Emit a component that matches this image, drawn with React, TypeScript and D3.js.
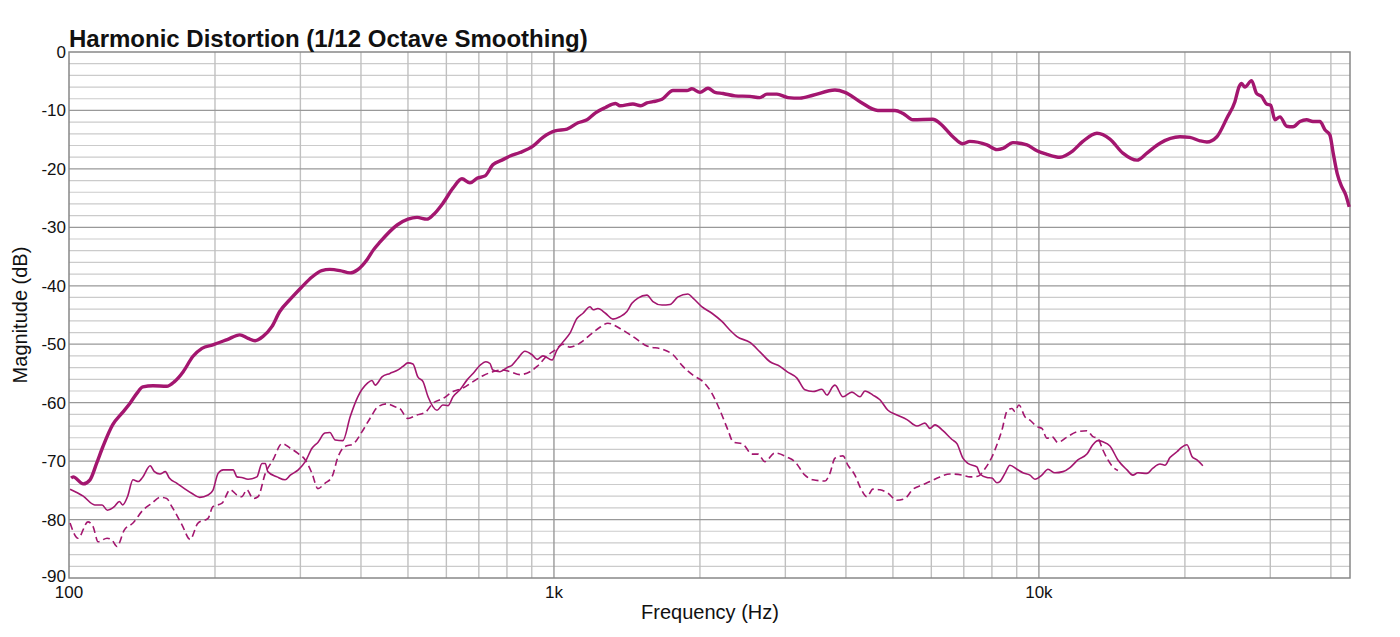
import React from "react";
import * as d3 from "d3";

// Fundamental (thick) — [Hz, dB]
const fundamental: [number, number][] = [
  [101, -72.9], [102, -72.7], [107, -73.9], [110.5, -73.2], [114, -70.4], [117.5, -67.5],
  [123, -63.8], [128.6, -61.8], [133.6, -60.1], [138, -58.4], [142, -57.3], [149, -57.1],
  [159, -57.2], [165, -56.4], [172, -54.7], [180, -52.1], [188, -50.7], [198, -50.1],
  [212, -49.2], [225, -48.4], [234, -49], [242, -49.4], [251, -48.7], [262, -47],
  [272, -44.4], [286, -42.3], [302, -40.2], [317, -38.5], [332, -37.4], [345, -37.2],
  [362, -37.4], [380, -37.8], [393, -37.3], [412, -35.5], [424, -33.9], [438, -32.5],
  [475, -29.6], [500, -28.6], [522, -28.3], [547, -28.6], [563, -27.9], [590, -25.9],
  [619, -23.3], [646, -21.7], [671, -22.4], [694, -21.6], [721, -21.2], [748, -19.3],
  [781, -18.5], [812, -17.8], [851, -17.2], [905, -16.1], [949, -14.6], [1005, -13.5],
  [1064, -13.2], [1121, -12.1], [1170, -11.6], [1218, -10.4], [1277, -9.5], [1340, -8.8],
  [1368, -9.2], [1455, -8.9], [1510, -9.2], [1555, -8.7], [1600, -8.5], [1670, -8.1],
  [1760, -6.6], [1880, -6.6], [1925, -6.3], [2000, -6.9], [2078, -6.2], [2148, -6.9],
  [2231, -7.1], [2362, -7.5], [2536, -7.6], [2659, -7.8], [2749, -7.2], [2883, -7.2],
  [3038, -7.8], [3216, -7.9], [3420, -7.4], [3797, -6.5], [3981, -6.9], [4276, -8.5],
  [4656, -10], [5048, -10], [5243, -10.5], [5500, -11.6], [6045, -11.5], [6250, -12.2],
  [6648, -14.5], [6971, -15.7], [7206, -15.3], [7813, -15.9], [8192, -16.7], [8430, -16.5],
  [8840, -15.5], [9448, -15.9], [9906, -16.9], [10390, -17.5], [11050, -18], [11750, -16.9],
  [12320, -15.3], [13170, -13.9], [14010, -14.9], [14900, -17.3], [15930, -18.5],
  [16700, -17.3], [17770, -15.6], [19530, -14.5], [20480, -14.6], [21480, -15.2],
  [22200, -15.4], [23280, -14.5], [24420, -11.3], [25360, -8.5], [25880, -5.9],
  [26180, -5.4], [26590, -6], [27450, -4.9], [28110, -7.1], [28790, -7.6], [29480, -8.9],
  [30050, -9.1], [30670, -11.6], [31410, -11.1], [32420, -12.7], [33410, -12.8],
  [34540, -11.9], [35640, -11.6], [36730, -11.9], [37970, -11.9], [38880, -13.3],
  [39810, -14.2], [40440, -17.3], [41220, -20.8], [42090, -23], [42950, -24.5], [43630, -26.5],
];

// 2nd harmonic (thin solid)
const secondHarmonic: [number, number][] = [
  [100.5, -74.8], [107, -76], [113, -77.5], [117, -77.5], [120, -78.4], [124, -77.8],
  [127, -76.9], [129, -77.5], [132, -76.1], [135.5, -73.2], [139, -73.5], [142, -72.7],
  [147, -70.8], [150, -71.8], [154, -72.2], [158, -71.8], [161, -72.9], [167, -73.8],
  [173, -74.7], [179, -75.5], [186, -76.2], [193.5, -75.8], [198, -75], [203, -72.1],
  [208, -71.5], [218, -71.5], [222, -72.7], [227, -72.8], [234, -73.1], [244, -72.7],
  [250, -70.4], [254, -70.4], [257, -71.8], [268.5, -72.7], [279, -73.2], [286, -72.4],
  [297, -71.5], [307, -70.1], [317, -67.8], [326, -66.8], [337, -65.2], [345, -65.1],
  [354, -66.4], [367, -66.5], [380, -62.4], [394, -59], [412, -56.7], [421.5, -56.2],
  [428, -57], [442, -55.6], [459, -55], [477, -54.4], [488, -53.8], [500, -53.2],
  [512, -53.4], [524, -55.6], [537, -56.4], [550, -59], [574, -61.3], [590, -60.4],
  [605, -60.5], [619, -59], [640, -57.8], [662, -56.1], [681, -55], [704, -53.6],
  [724, -53], [738, -53.3], [748, -54.4], [774, -54.7], [800, -54], [819, -53.6],
  [843, -52.4], [871, -51.2], [901, -51.8], [923, -52.6], [949, -52], [991, -52.7],
  [1014, -51], [1044, -49.6], [1079, -48.1], [1115, -45.6], [1148, -44.7], [1187, -43.6],
  [1204, -44.1], [1232, -43.9], [1277, -44.7], [1323, -45.7], [1368, -45.3], [1414, -44.4],
  [1448, -43], [1490, -42.1], [1555, -41.6], [1600, -42.7], [1670, -43.3], [1735, -43.2],
  [1802, -41.9], [1889, -41.4], [1935, -42.1], [2020, -43.6], [2117, -44.7], [2220, -46.1],
  [2307, -47.6], [2385, -48.7], [2536, -49.7], [2659, -51.3], [2789, -53], [2924, -53.8],
  [3023, -54.7], [3170, -55.8], [3292, -57.8], [3420, -58.1], [3569, -57.7], [3655, -58.7],
  [3761, -57.2], [3797, -57], [3944, -59], [4116, -58.2], [4276, -59], [4378, -58],
  [4547, -58.7], [4701, -59.5], [4883, -61.3], [5096, -62.1], [5343, -62.9], [5604, -64],
  [5821, -63.5], [5961, -64.4], [6104, -63.8], [6340, -64.8], [6617, -66.3], [6776, -67],
  [6971, -69.5], [7138, -70.4], [7450, -71], [7557, -72.2], [7813, -72.8], [8000, -72.9],
  [8192, -73.7], [8309, -73.5], [8511, -72.1], [8716, -70.7], [9010, -71.4], [9268, -72],
  [9583, -72.4], [9813, -73.1], [10140, -72.4], [10440, -71.4], [10790, -72], [11210, -71.8],
  [11590, -71.1], [12030, -69.8], [12560, -68.8], [12920, -67.2], [13230, -66.5],
  [13550, -66.7], [14010, -67.4], [14550, -69.8], [15190, -71.5], [15620, -72.4],
  [16000, -72], [16700, -72.1], [17180, -71.2], [17770, -70.5], [18190, -70.7],
  [18630, -69.4], [19260, -68.4], [19720, -67.6], [20200, -67.2], [20680, -69.2],
  [21180, -69.8], [21780, -70.8],
];

// 3rd harmonic (thin dashed)
const thirdHarmonic: [number, number][] = [
  [100.5, -80.6], [104.4, -83.2], [109.4, -80.4], [112.1, -81.2], [114.8, -83.8],
  [119.8, -83.2], [122.6, -83.5], [125.6, -84.6], [130, -81.8], [135.5, -80.6], [142, -78.4],
  [148.3, -77.2], [154, -76.2], [159, -76.4], [163, -77.8], [171, -80.9], [177.7, -83.4],
  [184.5, -80.6], [193.5, -79.8], [198, -77.8], [206.8, -77.2], [215, -74.9], [222, -75.8],
  [227, -76.1], [232.8, -74.9], [239.5, -76.4], [245.3, -76.1], [254, -72.1], [263.4, -69.8],
  [275, -67], [286, -67.8], [297, -68.7], [307, -69.8], [317, -72.1], [326, -74.7],
  [337, -73.8], [348.5, -72.7], [358.6, -69.3], [370.8, -67.5], [385, -67.1], [401.8, -65],
  [417.5, -62.7], [433.6, -60.7], [452.6, -60.2], [470, -60.7], [481, -61], [500, -62.7],
  [522, -62.1], [542, -61.7], [563, -60.1], [590, -59.3], [619, -58.1], [649.3, -57.5],
  [681, -56.4], [713.8, -55.4], [748, -54.7], [781, -54.4], [812, -54.7], [851, -55.2],
  [892.3, -54.7], [923, -53.8], [967.4, -52], [1005, -51], [1044, -50], [1079, -50.5],
  [1131.5, -49.8], [1187, -48.4], [1244, -47.1], [1292, -46.4], [1368, -47.3], [1455, -48.7],
  [1555, -50.3], [1678, -50.9], [1760, -51.8], [1845, -53.8], [1935, -55.3], [2029, -56.4],
  [2117, -58.4], [2199, -61.3], [2285, -64.7], [2340, -66.7], [2453, -67.1], [2560, -68.8],
  [2634, -68.8], [2723, -70.1], [2855, -68.6], [3023, -69.3], [3140, -70.1], [3292, -72.4],
  [3420, -73.2], [3621, -73.4], [3707, -72.1], [3797, -69.5], [3944, -69.1], [4038, -70.7],
  [4174, -72.4], [4276, -74.4], [4420, -76.1], [4547, -74.8], [4701, -74.9], [4883, -75.5],
  [5096, -76.7], [5293, -76.4], [5500, -74.8], [5740, -74.1], [5961, -73.5], [6250, -72.7],
  [6554, -72.2], [6971, -72.4], [7206, -72.7], [7486, -72.6], [7739, -71.3], [8000, -69.3],
  [8192, -67.2], [8390, -64.7], [8590, -61.5], [8799, -61], [8920, -61.5], [9095, -60.4],
  [9356, -62.4], [9583, -63], [9906, -64.1], [10140, -64.4], [10390, -66.1], [10640, -65.8],
  [10940, -66.8], [11420, -65.9], [11980, -65], [12560, -64.8], [12920, -65.8],
  [13230, -66.1], [13550, -68.1], [13880, -69.8], [14210, -71], [14550, -71.6],
];

const freqDomain: [number, number] = [100, 43800];
const dbDomain: [number, number] = [-90, 0];
const xTickValues = [100, 1000, 10000];
const xTickLabels = ["100", "1k", "10k"];
const yTickValues = [0, -10, -20, -30, -40, -50, -60, -70, -80, -90];

const title = "Harmonic Distortion (1/12 Octave Smoothing)";
const xTitle = "Frequency (Hz)";
const yTitle = "Magnitude (dB)";

const W = 1400;
const H = 637;
const M = { left: 69, right: 50, top: 52, bottom: 59 };
const COLOR = "#a3166f";
const FONT = "'Liberation Sans', Arial, Helvetica, sans-serif";

export default function App() {
  const x = d3.scaleLog().domain(freqDomain).range([M.left, W - M.right]);
  const y = d3.scaleLinear().domain(dbDomain).range([H - M.bottom, M.top]);

  const line = d3
    .line<[number, number]>()
    .x((d) => x(d[0]))
    .y((d) => y(d[1]))
    .curve(d3.curveMonotoneX);

  // vertical grid: 1-9 per decade
  const vGrid: { f: number; major: boolean }[] = [];
  for (let dec = 100; dec <= 10000; dec *= 10) {
    for (let k = 1; k <= 9; k++) {
      const f = dec * k;
      if (f > freqDomain[0] && f < freqDomain[1]) vGrid.push({ f, major: k === 1 });
    }
  }
  const hGrid: { v: number; major: boolean }[] = [];
  for (let v = -88; v < 0; v += 2) hGrid.push({ v, major: v % 10 === 0 });

  const x0 = M.left;
  const x1 = W - M.right;
  const y0 = M.top;
  const y1 = H - M.bottom;

  return (
    <svg
      width={W}
      height={H}
      style={{ position: "absolute", left: 0, top: 0, display: "block", background: "#fff" }}
      fontFamily={FONT}
    >
      <rect x={0} y={0} width={W} height={H} fill="#fff" />
      {/* minor horizontal */}
      {hGrid.filter((g) => !g.major).map((g) => (
        <line key={"h" + g.v} x1={x0} x2={x1} y1={y(g.v)} y2={y(g.v)} stroke="#cbcbcb" strokeWidth={1.2} />
      ))}
      {vGrid.filter((g) => !g.major).map((g) => (
        <line key={"v" + g.f} x1={x(g.f)} x2={x(g.f)} y1={y0} y2={y1} stroke="#c0c0c0" strokeWidth={1.4} />
      ))}
      {hGrid.filter((g) => g.major).map((g) => (
        <line key={"H" + g.v} x1={x0} x2={x1} y1={y(g.v)} y2={y(g.v)} stroke="#999" strokeWidth={1.2} />
      ))}
      {vGrid.filter((g) => g.major).map((g) => (
        <line key={"V" + g.f} x1={x(g.f)} x2={x(g.f)} y1={y0} y2={y1} stroke="#999" strokeWidth={1.4} />
      ))}
      {/* border */}
      <rect x={x0} y={y0} width={x1 - x0} height={y1 - y0} fill="none" stroke="#888" strokeWidth={1.5} />

      {/* curves */}
      <path d={line(thirdHarmonic) || ""} fill="none" stroke={COLOR} strokeWidth={1.6} strokeDasharray="7,4" />
      <path d={line(secondHarmonic) || ""} fill="none" stroke={COLOR} strokeWidth={1.6} />
      <path d={line(fundamental) || ""} fill="none" stroke={COLOR} strokeWidth={3.4} strokeLinejoin="round" />

      {/* y ticks */}
      {yTickValues.map((v) => (
        <text key={"yt" + v} x={x0 - 3} y={v === -90 ? y(v) - 2 : y(v)} dy="0.35em" textAnchor="end" fontSize={17} fill="#111">
          {v}
        </text>
      ))}
      {/* x ticks */}
      {xTickValues.map((f, i) => (
        <text key={"xt" + f} x={x(f)} y={y1 + 20} textAnchor="middle" fontSize={17} fill="#111">
          {xTickLabels[i]}
        </text>
      ))}
      <text x={710} y={H - 18} textAnchor="middle" fontSize={20} fill="#111">
        {xTitle}
      </text>
      <text
        transform={`translate(${27},${(y0 + y1) / 2}) rotate(-90)`}
        textAnchor="middle"
        fontSize={20}
        fill="#111"
      >
        {yTitle}
      </text>
      <text x={x0} y={47} fontSize={24} fontWeight="bold" fill="#111">
        {title}
      </text>
    </svg>
  );
}
